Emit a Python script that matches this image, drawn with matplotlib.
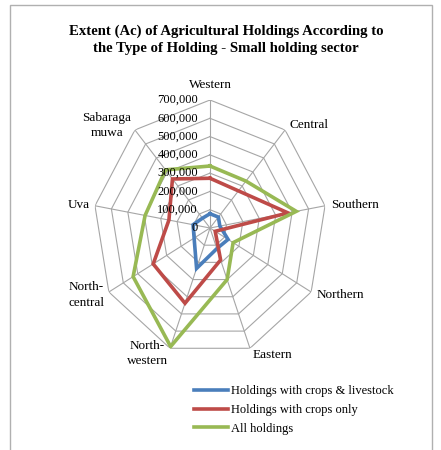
import numpy as np
import matplotlib
matplotlib.use("Agg")
import matplotlib.pyplot as plt
from matplotlib.patches import Rectangle
import matplotlib.transforms as mtransforms

plt.rcParams['font.family'] = ['Liberation Serif', 'DejaVu Serif']

categories = ["Western", "Central", "Southern", "Northern", "Eastern",
              "North-\nwestern", "North-\ncentral", "Uva", "Sabaraga\nmuwa"]
crops_livestock = [78000, 78000, 60000, 125000, 120000, 235000, 110000, 103000, 70000]
crops_only = [272000, 265000, 475000, 36000, 186000, 438000, 393000, 250000, 350000]
all_holdings = [339000, 335000, 525000, 160000, 300000, 690000, 532000, 395000, 415000]
series_names = ["Holdings with crops & livestock", "Holdings with crops only", "All holdings"]
series_colors = ["#4A7EBB", "#BE4B48", "#98B954"]
ticks = [0, 100000, 200000, 300000, 400000, 500000, 600000, 700000]
title = "Extent (Ac) of Agricultural Holdings According to\nthe Type of Holding - Small holding sector"

W, H = 441, 450
fig = plt.figure(figsize=(W / 100, H / 100), dpi=100)

# frame
fig.add_artist(Rectangle((10 / W, -0.05), (432 - 10) / W, (450 - 5) / H + 0.05,
                         transform=fig.transFigure, fill=False, edgecolor="#b0b0b0", lw=1.0))

cx, cy, rx, ry = 210, 228, 116.8, 128
ax = fig.add_axes([(cx - rx) / W, (H - cy - ry) / H, 2 * rx / W, 2 * ry / H], projection='polar')
ax.set_aspect('auto')
ax.set_theta_zero_location('N')
ax.set_theta_direction(-1)
ax.set_ylim(0, ticks[-1])
ax.grid(False)
ax.spines['polar'].set_visible(False)
ax.set_xticks([])
ax.set_yticks([])
ax.patch.set_alpha(0)

n = len(categories)
theta = np.arange(n) * 2 * np.pi / n
theta_closed = np.append(theta, theta[0])

grid_color = "#a6a6a6"
for t in ticks[1:]:
    ax.plot(theta_closed, [t] * (n + 1), color=grid_color, lw=0.8, zorder=1)
for th in theta:
    ax.plot([th, th], [0, ticks[-1]], color=grid_color, lw=0.8, zorder=1)

handles = []
for vals, name, col in zip([crops_livestock, crops_only, all_holdings], series_names, series_colors):
    v = np.append(vals, vals[0])
    ln, = ax.plot(theta_closed, v, color=col, lw=2.6, label=name, zorder=3,
                  solid_joinstyle='miter')
    handles.append(ln)

# radial tick labels
off = mtransforms.offset_copy(ax.transData, fig=fig, x=-12, y=0, units='dots')
for t in ticks:
    ax.text(0, t, f"{t:,}", transform=off, ha='right', va='center', fontsize=9, zorder=4)

# category labels
for i, (th, lab) in enumerate(zip(theta, categories)):
    deg = np.degrees(th) % 360
    if i == 0:
        ax.text(th, 782000, lab, ha='center', va='center', fontsize=9.5)
    elif deg < 180:
        ax.text(th, 738000, lab, ha='left', va='center', fontsize=9.5, multialignment='left')
    else:
        ma = 'left' if "central" in lab else 'center'
        ax.text(th, 732000, lab, ha='right', va='center', fontsize=9.5, multialignment=ma,
                linespacing=1.35)

fig.text(226 / W, 1 - 40 / H, title, ha='center', va='center', fontsize=10.6,
         fontweight='bold', linespacing=1.4)

fig.legend(handles=handles, loc='upper left', bbox_to_anchor=(194 / W, 1 - 385 / H),
           frameon=False, fontsize=9, handlelength=2.7, handletextpad=0.25,
           labelspacing=0.55, borderpad=0, borderaxespad=0)

fig.savefig("out.png", dpi=100)
